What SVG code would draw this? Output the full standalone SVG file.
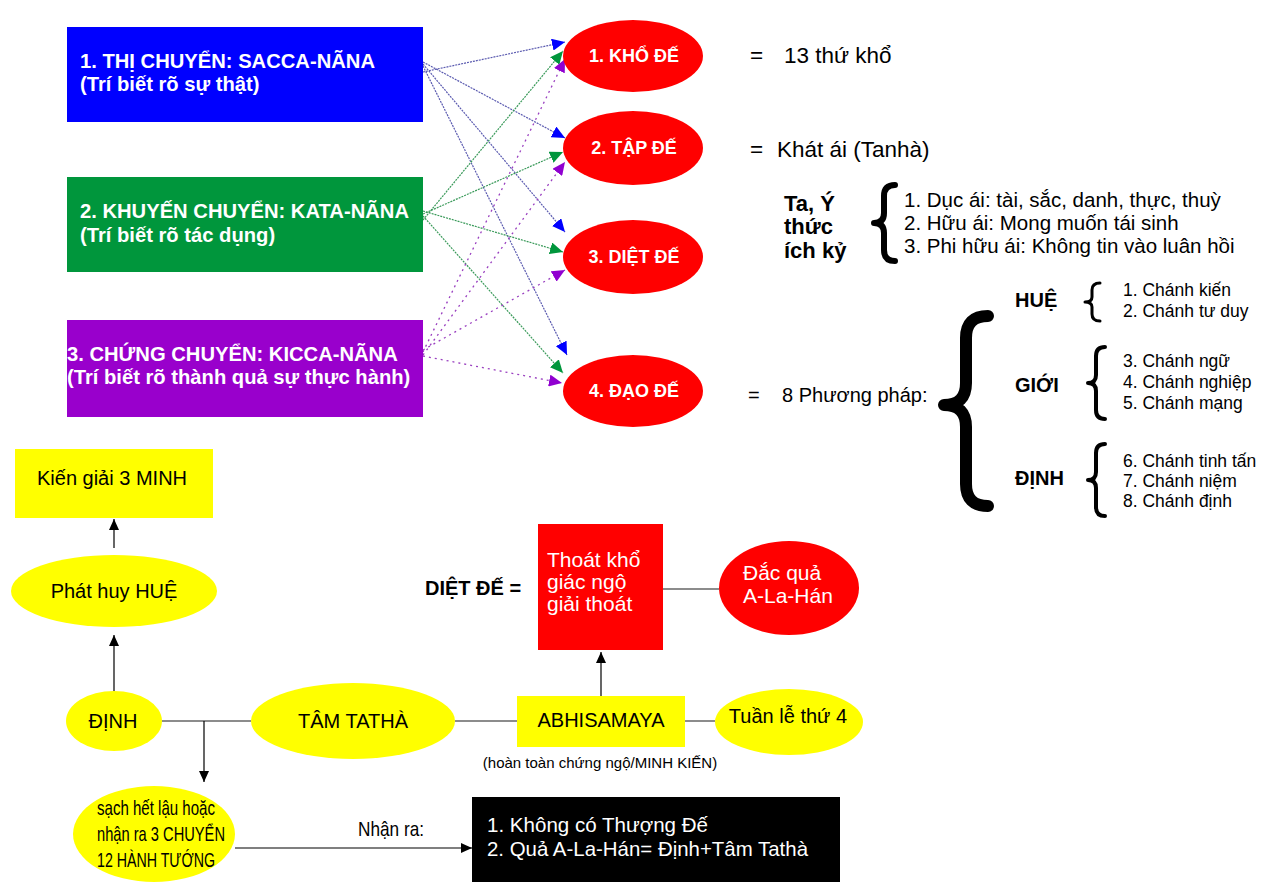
<svg xmlns="http://www.w3.org/2000/svg" width="1270" height="882" viewBox="0 0 1270 882">
<style>
text{font-family:"Liberation Sans",Arial,sans-serif;}
.wb{fill:#fff;font-weight:bold;font-size:20.2px;}
.eb{fill:#fff;font-weight:bold;font-size:18px;text-anchor:middle;}
.t22{fill:#000;font-size:22.5px;}
.t20{fill:#000;font-size:20px;}
.t205{fill:#000;font-size:20.5px;}
.t17{fill:#000;font-size:17.5px;}
.b20{fill:#000;font-weight:bold;font-size:20px;}
.b22{fill:#000;font-weight:bold;font-size:22px;}
.w21{fill:#fff;font-size:21px;}
.mid{text-anchor:middle;}
.brace{fill:none;stroke:#000;stroke-linejoin:round;stroke-linecap:round;}
.cb{stroke:#5b5bb0;stroke-width:1.2;stroke-dasharray:2 1;fill:none;}
.cg{stroke:#3a9a5a;stroke-width:1.2;stroke-dasharray:2 1;fill:none;}
.cp{stroke:#9a40c0;stroke-width:1.3;stroke-dasharray:2 4;fill:none;}
.ck{stroke:#000;stroke-width:1.2;fill:none;}
.cg2{stroke:#666;stroke-width:1.5;fill:none;}
</style>
<defs>
<marker id="mb" markerUnits="userSpaceOnUse" markerWidth="14" markerHeight="12" refX="13" refY="6" orient="auto"><path d="M0,0 L13,6 L0,12 z" fill="#0000ff"/></marker>
<marker id="mg" markerUnits="userSpaceOnUse" markerWidth="14" markerHeight="12" refX="13" refY="6" orient="auto"><path d="M0,0 L13,6 L0,12 z" fill="#00963c"/></marker>
<marker id="mp" markerUnits="userSpaceOnUse" markerWidth="14" markerHeight="12" refX="13" refY="6" orient="auto"><path d="M0,0 L13,6 L0,12 z" fill="#9000d0"/></marker>
<marker id="mk" markerUnits="userSpaceOnUse" markerWidth="12" markerHeight="12" refX="11" refY="5" orient="auto"><path d="M0,0 L11,5 L0,10 z" fill="#000"/></marker>
</defs>
<rect width="1270" height="882" fill="#fff"/>

<g id="connectors">
<line class="cb" x1="423" y1="72" x2="565" y2="42" marker-end="url(#mb)"/>
<line class="cb" x1="423" y1="62" x2="565" y2="138" marker-end="url(#mb)"/>
<line class="cb" x1="423" y1="64" x2="565" y2="232" marker-end="url(#mb)"/>
<line class="cb" x1="423" y1="66" x2="567" y2="355" marker-end="url(#mb)"/>
<line class="cg" x1="423" y1="220" x2="563" y2="51" marker-end="url(#mg)"/>
<line class="cg" x1="423" y1="214" x2="563" y2="152" marker-end="url(#mg)"/>
<line class="cg" x1="423" y1="211" x2="563" y2="252" marker-end="url(#mg)"/>
<line class="cg" x1="423" y1="216" x2="563" y2="373" marker-end="url(#mg)"/>
<line class="cp" x1="423" y1="352" x2="565" y2="59" marker-end="url(#mp)"/>
<line class="cp" x1="423" y1="355" x2="565" y2="162" marker-end="url(#mp)"/>
<line class="cp" x1="423" y1="350" x2="565" y2="270" marker-end="url(#mp)"/>
<line class="cp" x1="423" y1="356" x2="562" y2="383" marker-end="url(#mp)"/>
<line class="ck" x1="114" y1="548" x2="114" y2="519" marker-end="url(#mk)"/>
<line class="ck" x1="114" y1="692" x2="114" y2="635" marker-end="url(#mk)"/>
<line class="cg2" x1="162" y1="721" x2="251" y2="721"/>
<line class="ck" x1="204" y1="721" x2="204" y2="782" marker-end="url(#mk)"/>
<line class="cg2" x1="455" y1="721" x2="517" y2="721"/>
<line class="cg2" x1="685" y1="721" x2="715" y2="721"/>
<line class="ck" x1="601" y1="696" x2="601" y2="652" marker-end="url(#mk)"/>
<line class="cg2" x1="663" y1="589" x2="719" y2="589"/>
<line class="ck" x1="235" y1="848" x2="472" y2="848" marker-end="url(#mk)"/>
</g>

<g id="thi-chuyen"><rect x="67" y="27" width="356" height="95" fill="#0000ff"/>
<text class="wb" x="80" y="68">1. THỊ CHUYỂN: SACCA-NÃNA</text>
<text class="wb" x="80" y="91">(Trí biết rõ sự thật)</text></g>
<g id="khuyen-chuyen"><rect x="67" y="177" width="356" height="95" fill="#00963c"/>
<text class="wb" x="80" y="218">2. KHUYẾN CHUYỂN: KATA-NÃNA</text>
<text class="wb" x="80" y="242">(Trí biết rõ tác dụng)</text></g>
<g id="chung-chuyen"><rect x="67" y="320" width="356" height="97" fill="#9900cc"/>
<text class="wb" x="67" y="361">3. CHỨNG CHUYỂN: KICCA-NÃNA</text>
<text class="wb" x="67" y="384">(Trí biết rõ thành quả sự thực hành)</text></g>

<g id="kho-de"><ellipse cx="633" cy="56" rx="70" ry="36" fill="#ff0000"/><text class="eb" x="634" y="62">1. KHỔ ĐẾ</text></g>
<g id="tap-de"><ellipse cx="633" cy="148" rx="70" ry="37" fill="#ff0000"/><text class="eb" x="634" y="154">2. TẬP ĐẾ</text></g>
<g id="diet-de"><ellipse cx="633" cy="257" rx="70" ry="37" fill="#ff0000"/><text class="eb" x="634" y="263">3. DIỆT ĐẾ</text></g>
<g id="dao-de"><ellipse cx="633" cy="391" rx="70" ry="36" fill="#ff0000"/><text class="eb" x="634" y="397">4. ĐẠO ĐẾ</text></g>

<g id="kho-de-text"><text class="t22" x="750" y="63">=</text><text class="t22" x="784" y="63">13 thứ khổ</text></g>
<g id="tap-de-text"><text class="t22" x="750" y="157">=</text><text class="t22" x="777" y="157">Khát ái (Tanhà)</text></g>
<g id="tanha-types">
<text class="b22" x="784" y="211">Ta, Ý</text>
<text class="b22" x="784" y="234">thức</text>
<text class="b22" x="784" y="258">ích kỷ</text>
<path class="brace" stroke-width="6" d="M895,185 Q884,185 884,196 L884,213 Q884,223 874,223 Q884,223 884,233 L884,250 Q884,261 895,261"/>
<text class="t205" x="904" y="207">1.  Dục ái: tài, sắc, danh, thực, thuỳ</text>
<text class="t205" x="904" y="230">2.  Hữu ái: Mong muốn tái sinh</text>
<text class="t205" x="904" y="253">3.  Phi hữu ái: Không tin vào luân hồi</text>
</g>
<g id="dao-de-text"><text class="t20" x="748" y="402">=</text><text class="t20" x="782" y="402">8 Phương pháp:</text>
<path class="brace" stroke-width="12" d="M988,316 Q966,316 966,338 L966,383 Q966,405 944,405 Q966,405 966,427 L966,484 Q966,506 988,506"/>
</g>
<g id="hue">
<text class="b20" x="1015" y="307">HUỆ</text>
<path class="brace" stroke-width="3" d="M1100,283 Q1092,283 1092,290 L1092,297 Q1092,302 1085,302 Q1092,302 1092,307 L1092,314 Q1092,321 1100,321"/>
<text class="t17" x="1123" y="296">1.  Chánh kiến</text>
<text class="t17" x="1123" y="317">2.  Chánh tư duy</text>
</g>
<g id="gioi">
<text class="b20" x="1015" y="392">GIỚI</text>
<path class="brace" stroke-width="4" d="M1105,347 Q1096,347 1096,356 L1096,375 Q1096,383 1088,383 Q1096,383 1096,391 L1096,410 Q1096,419 1105,419"/>
<text class="t17" x="1123" y="367">3. Chánh ngữ</text>
<text class="t17" x="1123" y="388">4. Chánh nghiệp</text>
<text class="t17" x="1123" y="409">5. Chánh mạng</text>
</g>
<g id="dinh-8">
<text class="b20" x="1015" y="485">ĐỊNH</text>
<path class="brace" stroke-width="4" d="M1105,444 Q1096,444 1096,453 L1096,472 Q1096,480 1088,480 Q1096,480 1096,488 L1096,507 Q1096,516 1105,516"/>
<text class="t17" x="1123" y="467">6. Chánh tinh tấn</text>
<text class="t17" x="1123" y="487">7. Chánh niệm</text>
<text class="t17" x="1123" y="507">8. Chánh định</text>
</g>

<g id="kien-giai"><rect x="15" y="449" width="198" height="69" fill="#ffff00"/><text class="t20 mid" x="112" y="485">Kiến giải 3 MINH</text></g>
<g id="phat-huy-hue"><ellipse cx="114" cy="591" rx="103" ry="36" fill="#ffff00"/><text class="t20 mid" x="114" y="598">Phát huy HUỆ</text></g>
<g id="dinh"><ellipse cx="114" cy="721" rx="48" ry="30" fill="#ffff00"/><text class="t20 mid" x="113" y="728">ĐỊNH</text></g>
<g id="tam-tatha"><ellipse cx="353" cy="721" rx="102" ry="38" fill="#ffff00"/><text class="t20 mid" x="353" y="728">TÂM TATHÀ</text></g>
<g id="abhisamaya"><rect x="517" y="696" width="168" height="51" fill="#ffff00"/><text class="t20 mid" x="601" y="727">ABHISAMAYA</text>
<text class="mid" x="600" y="768" style="font-size:15px;fill:#000">(hoàn toàn chứng ngộ/MINH KIẾN)</text></g>
<g id="tuan-le"><ellipse cx="789" cy="722" rx="74" ry="33" fill="#ffff00"/><text class="t20 mid" x="788" y="723">Tuần lễ thứ 4</text></g>
<g id="thoat-kho"><rect x="538" y="524" width="125" height="126" fill="#ff0000"/>
<text class="w21" x="547" y="567">Thoát khổ</text>
<text class="w21" x="547" y="589">giác ngộ</text>
<text class="w21" x="547" y="611">giải thoát</text></g>
<g id="dac-qua"><ellipse cx="789" cy="588" rx="70" ry="47" fill="#ff0000"/>
<text class="w21" x="743" y="580">Đắc quả</text>
<text class="w21" x="743" y="603">A-La-Hán</text></g>
<text class="b20" x="425" y="595">DIỆT ĐẾ =</text>
<g id="sach-het"><ellipse cx="154" cy="834" rx="81" ry="48" fill="#ffff00"/>
<text class="t20" x="97" y="815" style="font-size:21px" textLength="118" lengthAdjust="spacingAndGlyphs">sạch hết lậu hoặc</text>
<text class="t20" x="97" y="841" style="font-size:21px" textLength="128" lengthAdjust="spacingAndGlyphs">nhận ra 3 CHUYỂN</text>
<text class="t20" x="97" y="867" style="font-size:21px" textLength="118" lengthAdjust="spacingAndGlyphs">12 HÀNH TƯỚNG</text></g>
<text class="t20" x="358" y="836" style="font-size:21px" textLength="66" lengthAdjust="spacingAndGlyphs">Nhận ra:</text>
<g id="ket-luan"><rect x="472" y="797" width="368" height="85" fill="#000"/>
<text class="w21" x="487" y="832" textLength="221" lengthAdjust="spacingAndGlyphs">1.  Không có Thượng Đế</text>
<text class="w21" x="487" y="856" textLength="321" lengthAdjust="spacingAndGlyphs">2.  Quả A-La-Hán= Định+Tâm Tathà</text></g>
</svg>
